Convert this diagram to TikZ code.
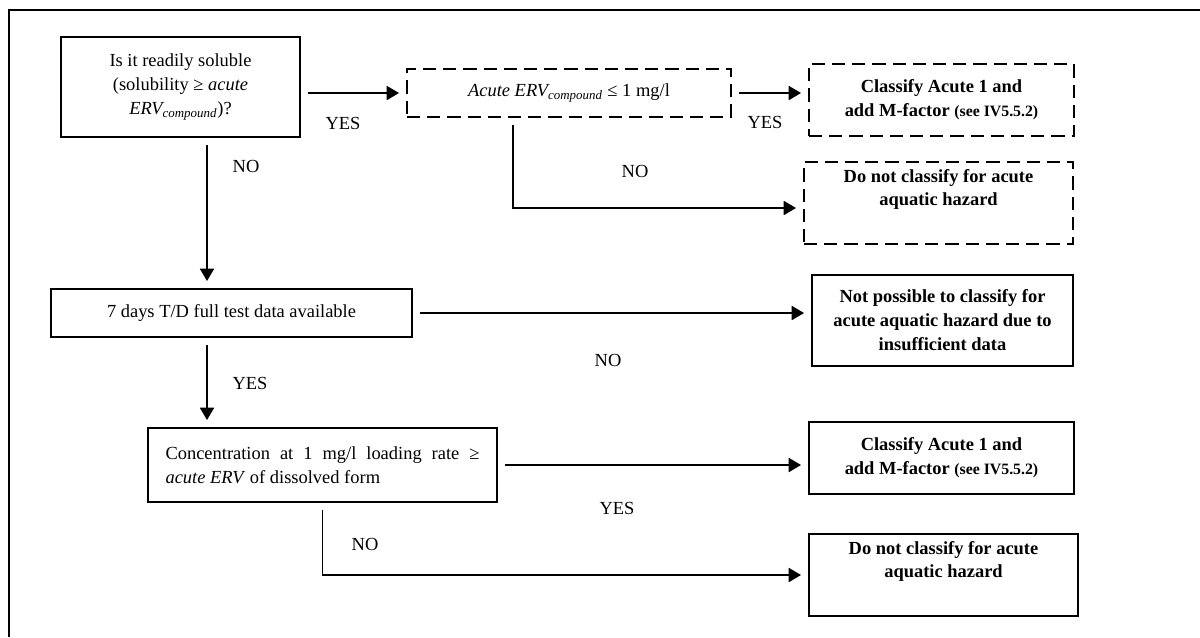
\documentclass[tikz,border=0pt]{standalone}
\usepackage{fontspec}
\setmainfont{Liberation Serif}
\usetikzlibrary{arrows.meta}
\begin{document}
\begin{tikzpicture}[x=0.02cm,y=-0.02cm,
    box/.style={draw,line width=1.1pt,inner sep=0pt,align=center,font=\fontsize{10.5}{13.6}\selectfont},
    dbox/.style={box,dash pattern=on 7.5pt off 4pt},
    lbl/.style={font=\fontsize{10.5}{12}\selectfont},
    arr/.style={line width=0.9pt,-{Triangle[length=7pt,width=8pt]},shorten >=4pt,shorten <=4pt},
    lin/.style={line width=0.9pt,shorten <=4pt}]
     % Definitions
     \def\geq{≥}
     \def\cpd{\textsubscript{\textit{compound}}}
     \def\mfac{\textbf{Classify Acute 1 and}\\\textbf{add M-factor {\small(see IV5.5.2)}}}
     \def\nocl{\textbf{Do not classify for acute}\\\textbf{aquatic hazard}}
     \useasboundingbox (0,0) rectangle (1200,637);
     % Frame
     \draw[line width=1.4pt] (9,637) -- (9,10) -- (1200,10);
     % Boxes
     \node[box,minimum width=4.78cm,minimum height=2cm] (sol) at (180.5,87)
      {Is it readily soluble\\(solubility \geq\ \textit{acute}\\\textit{ERV\cpd})?};
     \node[dbox,minimum width=6.48cm,minimum height=0.96cm] (erv) at (569,93)
      {\textit{Acute ERV\cpd} ≤ 1 mg/l};
     \node[dbox,minimum width=5.3cm,minimum height=1.44cm] (acA) at (941.5,100) {\mfac};
     \node[dbox,minimum width=5.38cm,minimum height=1.64cm] (ncA) at (938.5,203) {\nocl\\[4pt]};
     \node[box,minimum width=7.22cm,minimum height=0.96cm] (td) at (231.5,313)
      {7 days T/D full test data available};
     \node[box,minimum width=5.22cm,minimum height=1.82cm] (nd) at (942.5,320.5)
      {\textbf{Not possible to classify for}\\\textbf{acute aquatic hazard due to}\\\textbf{insufficient data}};
     \node[box,minimum width=6.98cm,minimum height=1.48cm,text width=6.28cm,align=justify] (conc) at (322.5,465)
      {Concentration at 1 mg/l loading rate \geq\linebreak\textit{acute ERV} of dissolved form};
     \node[box,minimum width=5.3cm,minimum height=1.44cm] (acB) at (941.5,458) {\mfac};
     \node[box,minimum width=5.38cm,minimum height=1.64cm] (ncB) at (943.5,575) {\nocl\\[4pt]};
     % Turning points
     \coordinate (col) at (207,0);
     \coordinate (t1) at (513,208);
     % Connectors
     \draw[arr] (sol.east |- erv.west) -- (erv.west);
     \draw[arr] (erv.east) -- (erv.east -| acA.west);
     \draw[arr] (erv.south -| t1) -- (t1) -- (t1 -| ncA.west);
     \draw[arr] (sol.south -| col) -- (td.north -| col);
     \draw[arr] (td.east) -- (td.east -| nd.west);
     \draw[arr] (td.south -| col) -- (conc.north -| col);
     \draw[arr] (conc.east) -- (conc.east -| acB.west);
     \draw[arr] (conc.south) -- (conc.south |- ncB.west) -- (ncB.west);
     % Labels
     \foreach \x/\y/\t in {343/123/YES,765/122/YES,635/171/NO,246/166/NO,
                           608/360/NO,250/383/YES,617/508/YES,365/544/NO} {
      \node[lbl] at (\x,\y) {\t};
     };
\end{tikzpicture}
\end{document}
